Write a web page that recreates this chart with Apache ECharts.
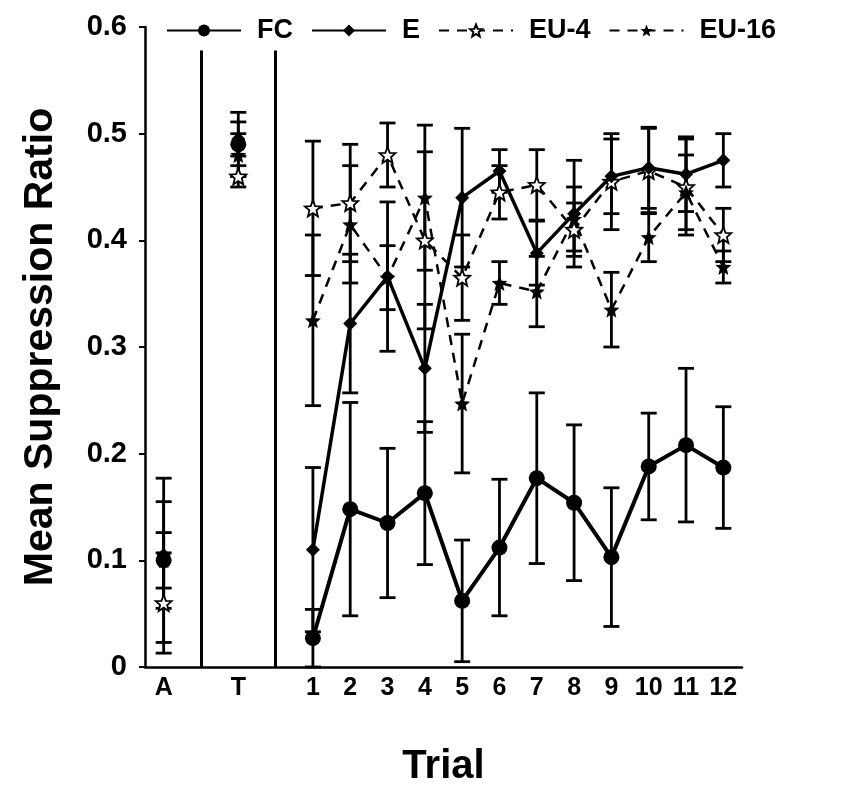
<!DOCTYPE html>
<html>
<head>
<meta charset="utf-8">
<title>Mean Suppression Ratio</title>
<script src="https://cdn.jsdelivr.net/npm/echarts@6/dist/echarts.min.js"></script>
<style>
  html, body { margin: 0; padding: 0; background: #fff; }
  #chart { width: 848px; height: 788px; }
</style>
</head>
<body>
<div id="chart"></div>
<script>
  // categories: A, gap, T, gap, trials 1..12
  var categories = ['A', '', 'T', '', '1', '2', '3', '4', '5', '6', '7', '8', '9', '10', '11', '12'];
  var yTicks = [0, 0.1, 0.2, 0.3, 0.4, 0.5, 0.6];
  var separators = [1, 3];

  var fcMean = [0.100, '-', 0.490, '-', 0.027, 0.148, 0.135, 0.163, 0.062, 0.112, 0.177, 0.154, 0.103, 0.188, 0.208, 0.187];
  var fcErr  = [0.026, '-', 0.030, '-', 0.027, 0.100, 0.070, 0.067, 0.057, 0.064, 0.080, 0.073, 0.065, 0.050, 0.072, 0.057];

  var eMean = [0.105, '-', 0.495, '-', 0.110, 0.322, 0.366, 0.280, 0.440, 0.465, 0.388, 0.425, 0.460, 0.468, 0.462, 0.475];
  var eErr  = [0.050, '-', 0.016, '-', 0.077, 0.065, 0.070, 0.060, 0.065, 0.020, 0.030, 0.050, 0.035, 0.038, 0.035, 0.025];

  var eu4Mean = [0.060, '-', 0.460, '-', 0.430, 0.435, 0.480, 0.400, 0.365, 0.445, 0.452, 0.410, 0.455, 0.465, 0.450, 0.405];
  var eu4Err  = [0.047, '-', 0.010, '-', 0.063, 0.055, 0.030, 0.083, 0.040, 0.025, 0.033, 0.025, 0.045, 0.040, 0.045, 0.025];

  var eu16Mean = [0.100, '-', 0.480, '-', 0.325, 0.415, 0.365, 0.440, 0.247, 0.360, 0.352, 0.420, 0.335, 0.403, 0.445, 0.375];
  var eu16Err  = [0.077, '-', 0.020, '-', 0.080, 0.055, 0.030, 0.068, 0.065, 0.020, 0.033, 0.030, 0.035, 0.023, 0.035, 0.015];

  var starPath = 'path://M0,-10L2.6,-3.4L9.5,-3.1L4.2,1.4L5.9,8.1L0,4.3L-5.9,8.1L-4.2,1.4L-9.5,-3.1L-2.6,-3.4Z';
  var font = 'Liberation Sans';

  var chart = echarts.init(document.getElementById('chart'), null, {renderer: 'canvas'});

  function errData(mean, err) {
    var out = [];
    for (var i = 0; i < mean.length; i++) {
      if (mean[i] === '-') continue;
      out.push([i, mean[i], err[i]]);
    }
    return out;
  }

  function renderErr(params, api) {
    var x = api.value(0), m = api.value(1), e = api.value(2);
    var top = api.coord([x, m + e]);
    var bot = api.coord([x, Math.max(0, m - e)]);
    var w = 8;
    var st = {stroke: '#000', lineWidth: 2.8};
    return {
      type: 'group',
      children: [
        {type: 'line', shape: {x1: top[0], y1: top[1], x2: bot[0], y2: bot[1]}, style: st},
        {type: 'line', shape: {x1: top[0] - w, y1: top[1], x2: top[0] + w, y2: top[1]}, style: st},
        {type: 'line', shape: {x1: bot[0] - w, y1: bot[1], x2: bot[0] + w, y2: bot[1]}, style: st}
      ]
    };
  }

  function errSeries(mean, err) {
    return {
      type: 'custom',
      renderItem: renderErr,
      data: errData(mean, err),
      z: 1,
      silent: true
    };
  }

  var sepLines = separators.map(function (s) {
    return [{coord: [s, 0]}, {coord: [s, 0.578]}];
  });

  var option = {
    backgroundColor: '#fff',
    animation: false,
    textStyle: {fontFamily: font, color: '#000'},
    legend: {
      data: ['FC', 'E', 'EU-4', 'EU-16'],
      left: 161,
      top: 12,
      itemWidth: 74,
      itemHeight: 15,
      itemGap: 18,
      textStyle: {fontFamily: font, fontSize: 27, fontWeight: 'bold', color: '#000', padding: [0, 0, 0, 11]}
    },
    grid: {left: 145, right: 106, top: 27, bottom: 121, containLabel: false, outerBoundsMode: 'none'},
    xAxis: {
      type: 'category',
      data: categories,
      boundaryGap: true,
      name: 'Trial',
      nameLocation: 'middle',
      nameGap: 80,
      nameTextStyle: {fontFamily: font, fontSize: 40, fontWeight: 'bold', color: '#000'},
      axisLine: {lineStyle: {color: '#000', width: 2.5}},
      axisTick: {
        alignWithLabel: true,
        length: 6,
        interval: function (i, v) { return v !== ''; },
        lineStyle: {color: '#000', width: 2}
      },
      axisLabel: {interval: 0, margin: 9, fontFamily: font, fontSize: 25, fontWeight: 'bold', color: '#000'}
    },
    yAxis: {
      type: 'value',
      min: 0,
      max: 0.6,
      interval: 0.1,
      name: 'Mean Suppression Ratio',
      nameLocation: 'middle',
      nameGap: 84,
      nameTextStyle: {fontFamily: font, fontSize: 41, fontWeight: 'bold', color: '#000'},
      splitLine: {show: false},
      axisLine: {show: true, lineStyle: {color: '#000', width: 2.5}},
      axisTick: {show: true, length: 6, lineStyle: {color: '#000', width: 2}},
      axisLabel: {
        margin: 18,
        fontFamily: font,
        fontSize: 29,
        fontWeight: 'bold',
        color: '#000',
        formatter: function (v) { return v === 0 ? '0' : v.toFixed(1); }
      }
    },
    series: [
      errSeries(fcMean, fcErr),
      errSeries(eMean, eErr),
      errSeries(eu4Mean, eu4Err),
      errSeries(eu16Mean, eu16Err),
      {
        name: 'FC',
        type: 'line',
        data: fcMean,
        symbol: 'circle',
        symbolSize: 16,
        itemStyle: {color: '#000'},
        lineStyle: {color: '#000', width: 4},
        z: 5,
        markLine: {
          silent: true,
          symbol: 'none',
          label: {show: false},
          lineStyle: {color: '#000', width: 3, type: 'solid'},
          data: sepLines
        }
      },
      {
        name: 'E',
        type: 'line',
        data: eMean,
        symbol: 'diamond',
        symbolSize: 14,
        itemStyle: {color: '#000'},
        lineStyle: {color: '#000', width: 3.5},
        z: 5
      },
      {
        name: 'EU-4',
        type: 'line',
        data: eu4Mean,
        symbol: starPath,
        symbolSize: 16,
        itemStyle: {color: '#fff', borderColor: '#000', borderWidth: 1.8},
        lineStyle: {color: '#000', width: 2.5, type: [10, 8]},
        z: 4
      },
      {
        name: 'EU-16',
        type: 'line',
        data: eu16Mean,
        symbol: starPath,
        symbolSize: 16,
        itemStyle: {color: '#000'},
        lineStyle: {color: '#000', width: 2.5, type: [10, 8]},
        z: 4
      }
    ]
  };

  chart.setOption(option);
</script>
</body>
</html>
